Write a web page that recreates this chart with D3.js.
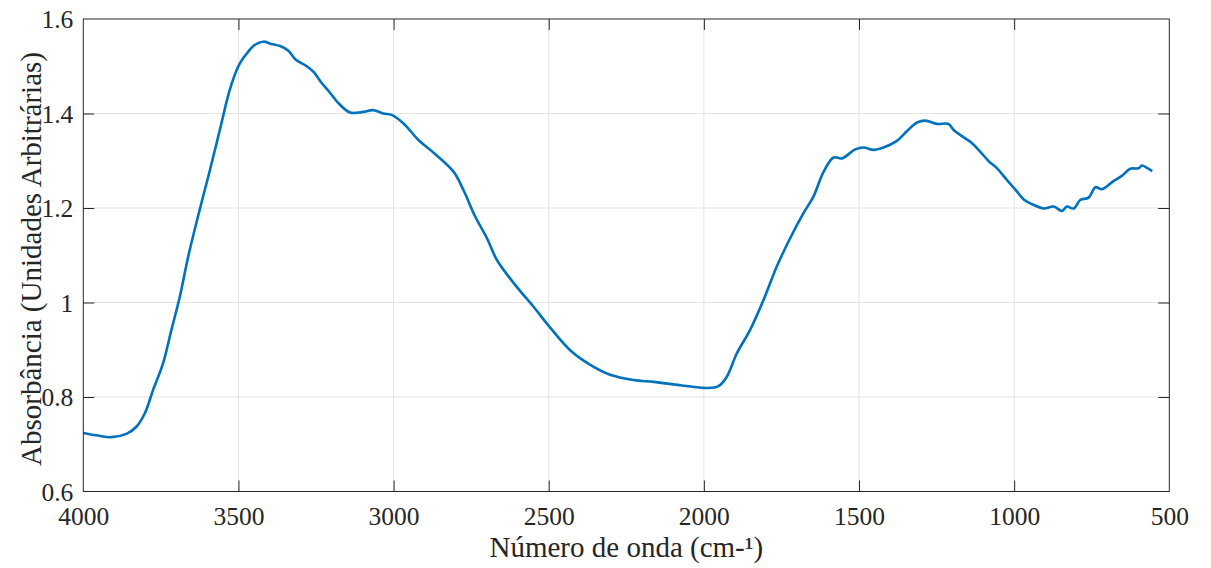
<!DOCTYPE html>
<html><head><meta charset="utf-8">
<script src="https://cdn.jsdelivr.net/npm/d3@7"></script>
<style>body{margin:0;background:#fff}svg{display:block}</style>
</head><body><svg id="c" width="1211" height="568"></svg>
<script>
const wavenumber = [4000,3958,3910,3861,3829,3802,3775,3743,3716,3689,3662,3625,3592,3560,3528,3501,3485,3473,3452,3420,3393,3366,3339,3317,3280,3258,3231,3205,3178,3140,3102,3065,3033,3006,2968,2920,2882,2807,2775,2737,2699,2667,2603,2549,2498,2431,2366,2302,2227,2162,2076,1990,1953,1926,1894,1851,1808,1765,1722,1679,1647,1614,1582,1555,1512,1485,1453,1421,1378,1345,1313,1286,1249,1212,1195,1168,1141,1109,1082,1055,1023,996,969,942,905,873,846,830,808,787,760,738,717,680,653,626,599,588,572,555];
const absorbance = [0.724,0.719,0.715,0.722,0.737,0.765,0.815,0.871,0.942,1.012,1.097,1.196,1.280,1.365,1.450,1.499,1.517,1.527,1.543,1.552,1.547,1.543,1.533,1.515,1.500,1.488,1.464,1.444,1.422,1.402,1.403,1.407,1.400,1.397,1.379,1.344,1.323,1.277,1.238,1.182,1.136,1.090,1.033,0.991,0.949,0.899,0.868,0.847,0.836,0.832,0.825,0.819,0.823,0.843,0.892,0.942,1.005,1.076,1.136,1.189,1.224,1.277,1.307,1.305,1.324,1.328,1.323,1.328,1.342,1.363,1.381,1.385,1.378,1.378,1.365,1.352,1.340,1.319,1.299,1.284,1.259,1.239,1.218,1.208,1.199,1.203,1.194,1.203,1.199,1.217,1.222,1.244,1.240,1.257,1.268,1.283,1.284,1.290,1.285,1.278];
const xTicks = [4000,3500,3000,2500,2000,1500,1000,500];
const yTicks = [0.6,0.8,1.0,1.2,1.4,1.6];
const yTickLabels = ["0.6","0.8","1","1.2","1.4","1.6"];
const xLabel = "Número de onda (cm-¹)";
const yLabel = "Absorbância (Unidades Arbitrárias)";

const L=83.3,R=1169.3,T=19,B=491.5;
const svg=d3.select("#c");
const x=d3.scaleLinear().domain([4000,500]).range([L,R]);
const y=d3.scaleLinear().domain([0.6,1.6]).range([B,T]);
const font="'Liberation Serif','Times New Roman',serif";
const axisCol="#262626";

// grid
const g=svg.append("g");
g.selectAll(".gx").data(xTicks.slice(1,-1)).join("line")
 .attr("x1",d=>x(d)).attr("x2",d=>x(d)).attr("y1",T).attr("y2",B)
 .attr("stroke","#e3e3e3").attr("stroke-width",1);
g.selectAll(".gy").data(yTicks.slice(1,-1)).join("line")
 .attr("y1",d=>y(d)).attr("y2",d=>y(d)).attr("x1",L).attr("x2",R)
 .attr("stroke","#e3e3e3").attr("stroke-width",1);

// line
const line=d3.line().x((d,i)=>x(wavenumber[i])).y(d=>y(d)).curve(d3.curveCatmullRom.alpha(0.5));
svg.append("path").datum(absorbance).attr("d",line)
 .attr("fill","none").attr("stroke","#0072BD").attr("stroke-width",2.6).attr("stroke-linejoin","round");

// axes (ticks inward, mirrored)
function styleAxis(sel){
  sel.select(".domain").remove();
  sel.selectAll(".tick line").attr("stroke",axisCol).attr("stroke-width",1);
  sel.selectAll("text").attr("font-family",font).attr("font-size",25.5).attr("fill",axisCol);
}
const ax=svg.append("g").attr("transform",`translate(0,${B})`)
 .call(d3.axisBottom(x).tickValues(xTicks).tickFormat(d3.format("d")).tickSizeInner(-11).tickPadding(15));
styleAxis(ax);
ax.selectAll(".tick").filter((d,i)=>i===0||i===xTicks.length-1).select("line").remove();
const axT=svg.append("g").attr("transform",`translate(0,${T})`)
 .call(d3.axisTop(x).tickValues(xTicks.slice(1,-1)).tickFormat("").tickSizeInner(-11));
styleAxis(axT);
const ay=svg.append("g").attr("transform",`translate(${L},0)`)
 .call(d3.axisLeft(y).tickValues(yTicks).tickFormat((d,i)=>yTickLabels[i]).tickSizeInner(-11).tickPadding(10));
styleAxis(ay);
ay.selectAll(".tick").filter((d,i)=>i===0||i===yTicks.length-1).select("line").remove();
ay.selectAll("text").attr("dy","0.34em");
const ayR=svg.append("g").attr("transform",`translate(${R},0)`)
 .call(d3.axisRight(y).tickValues(yTicks.slice(1,-1)).tickFormat("").tickSizeInner(-11));
styleAxis(ayR);

// box
svg.append("rect").attr("x",L).attr("y",T).attr("width",R-L).attr("height",B-T)
 .attr("fill","none").attr("stroke",axisCol).attr("stroke-width",1);

// labels
svg.append("text").attr("x",(L+R)/2).attr("y",557).attr("text-anchor","middle")
 .attr("font-family",font).attr("font-size",29).attr("fill",axisCol).text(xLabel);
svg.append("text").attr("transform",`translate(41,259) rotate(-90)`).attr("text-anchor","middle")
 .attr("font-family",font).attr("font-size",29).attr("fill",axisCol).text(yLabel);
</script></body></html>
